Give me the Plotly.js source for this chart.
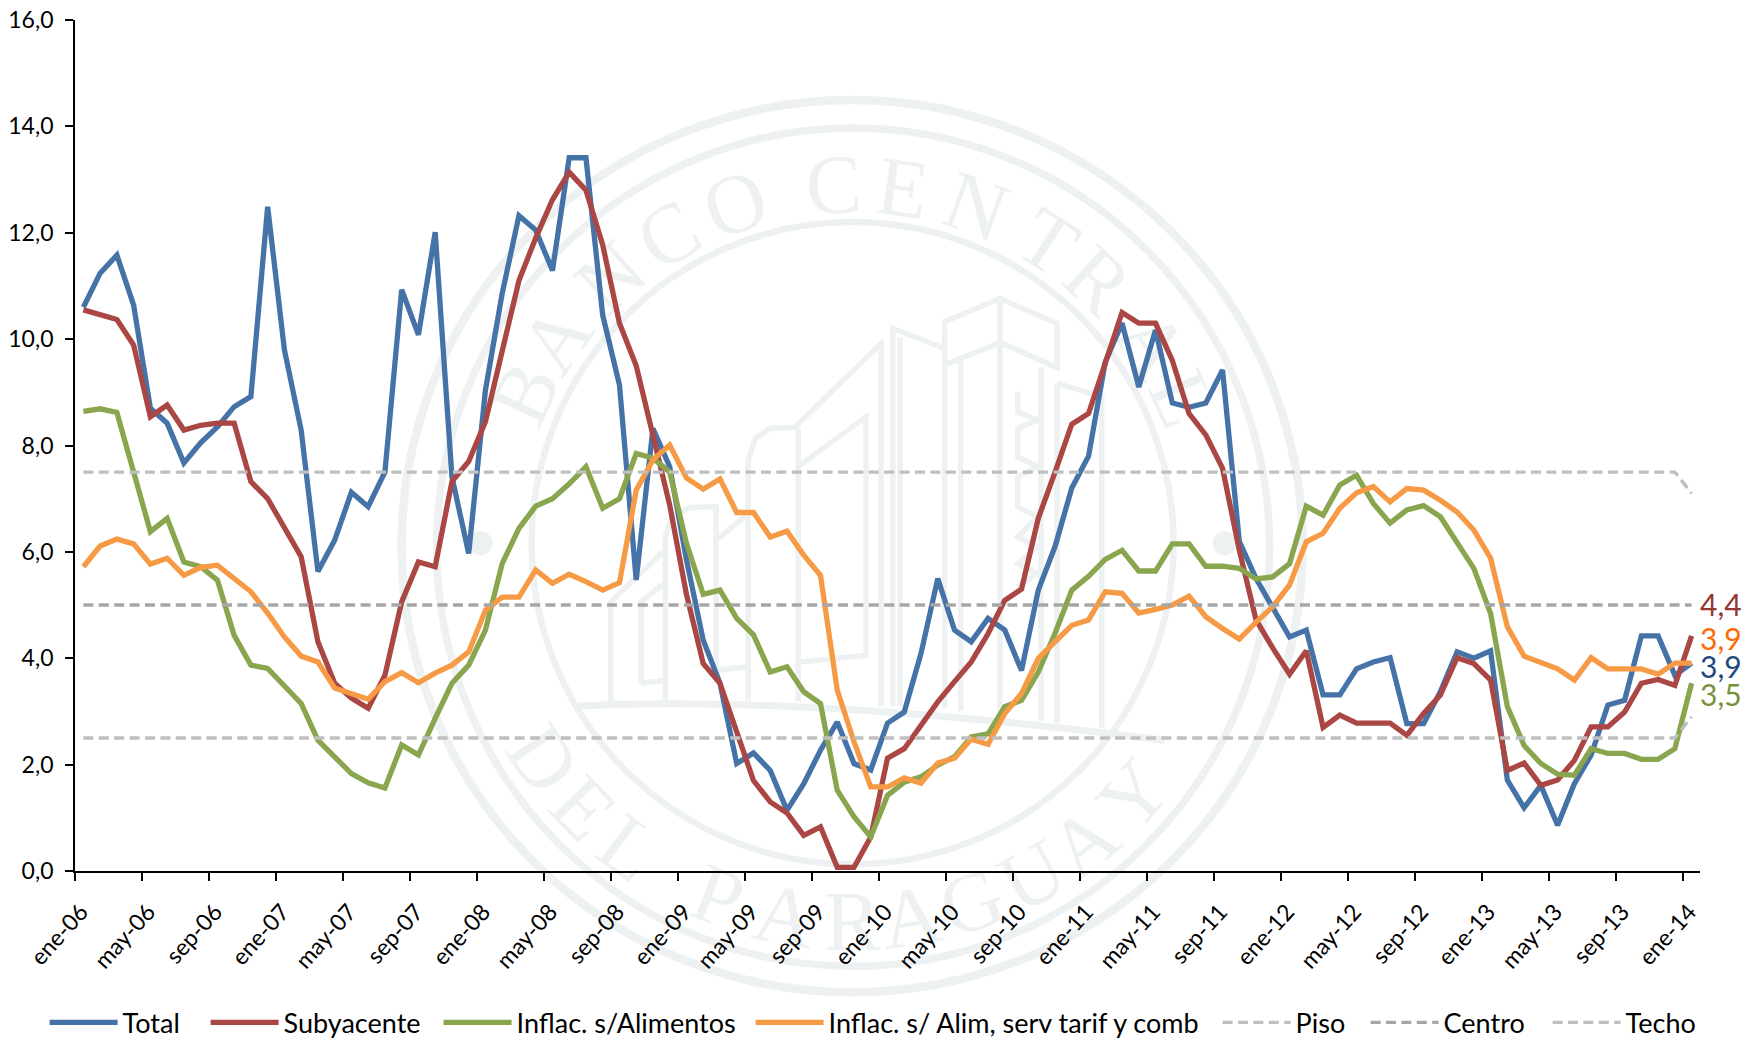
<!DOCTYPE html>
<html><head><meta charset="utf-8">
<script src="https://cdn.plot.ly/plotly-3.0.1.min.js"></script>
<style>html,body{margin:0;padding:0;background:#fff}#c{width:1748px;height:1046px}</style>
</head><body><div id="c"></div>
<script>
const monthLabels=['ene-06','may-06','sep-06','ene-07','may-07','sep-07','ene-08','may-08','sep-08','ene-09','may-09','sep-09','ene-10','may-10','sep-10','ene-11','may-11','sep-11','ene-12','may-12','sep-12','ene-13','may-13','sep-13','ene-14'];
const total=[10.6,11.24,11.58,10.64,8.7,8.42,7.67,8.05,8.35,8.73,8.92,12.49,9.8,8.29,5.63,6.22,7.12,6.85,7.5,10.93,10.08,12.01,7.41,5.97,9.04,10.86,12.32,12.05,11.29,13.41,13.41,10.45,9.14,5.47,8.32,7.6,5.85,4.34,3.53,2.02,2.22,1.89,1.14,1.64,2.27,2.8,2.02,1.9,2.78,2.99,4.09,5.5,4.53,4.31,4.75,4.53,3.77,5.28,6.1,7.2,7.8,9.57,10.3,9.1,10.17,8.8,8.72,8.8,9.42,6.2,5.5,4.95,4.4,4.53,3.31,3.31,3.8,3.93,4.01,2.77,2.77,3.37,4.12,4.0,4.14,1.71,1.19,1.61,0.86,1.64,2.18,3.12,3.21,4.42,4.42,3.68,3.91];
const subyacente=[10.55,10.45,10.37,9.89,8.54,8.76,8.29,8.38,8.42,8.42,7.32,7.0,6.47,5.91,4.31,3.53,3.25,3.06,3.68,5.06,5.81,5.72,7.32,7.7,8.45,9.76,11.1,11.9,12.62,13.14,12.8,11.77,10.3,9.5,8.23,6.88,5.2,3.9,3.53,2.58,1.7,1.3,1.09,0.67,0.83,0.07,0.07,0.64,2.12,2.3,2.74,3.18,3.56,3.93,4.46,5.09,5.3,6.63,7.5,8.4,8.6,9.55,10.5,10.3,10.3,9.6,8.6,8.2,7.57,6.03,4.72,4.19,3.7,4.14,2.7,2.93,2.78,2.78,2.78,2.55,2.96,3.31,4.01,3.9,3.59,1.89,2.03,1.61,1.71,2.08,2.71,2.71,2.99,3.53,3.6,3.49,4.42];
const alimentos=[8.64,8.69,8.62,7.47,6.38,6.63,5.81,5.72,5.47,4.43,3.87,3.81,3.49,3.15,2.46,2.15,1.83,1.66,1.56,2.37,2.18,2.87,3.53,3.87,4.53,5.78,6.44,6.86,7.0,7.28,7.6,6.82,7.0,7.85,7.76,7.5,6.16,5.2,5.28,4.75,4.44,3.74,3.84,3.37,3.15,1.52,1.02,0.64,1.42,1.67,1.77,1.99,2.15,2.52,2.58,3.09,3.21,3.74,4.47,5.28,5.54,5.86,6.03,5.64,5.64,6.15,6.15,5.73,5.73,5.69,5.49,5.53,5.78,6.86,6.69,7.26,7.44,6.91,6.54,6.79,6.87,6.66,6.19,5.69,4.84,3.09,2.36,2.02,1.82,1.8,2.3,2.21,2.21,2.1,2.1,2.3,3.53];
const alimServ=[5.72,6.11,6.24,6.15,5.77,5.88,5.56,5.71,5.75,5.5,5.25,4.85,4.4,4.04,3.93,3.44,3.34,3.23,3.56,3.73,3.54,3.72,3.87,4.12,4.9,5.15,5.15,5.66,5.41,5.58,5.44,5.28,5.42,7.16,7.73,8.01,7.39,7.18,7.37,6.74,6.74,6.28,6.39,5.94,5.56,3.4,2.43,1.58,1.58,1.75,1.65,2.03,2.12,2.48,2.38,2.96,3.34,4.0,4.31,4.62,4.72,5.25,5.22,4.85,4.92,5.0,5.17,4.78,4.56,4.36,4.68,4.97,5.38,6.19,6.35,6.82,7.11,7.23,6.94,7.19,7.16,6.97,6.75,6.41,5.88,4.59,4.04,3.93,3.8,3.59,4.01,3.8,3.8,3.8,3.7,3.91,3.91];
const piso=Array(96).fill(2.5).concat([2.9]);
const centro=Array(97).fill(5.0);
const techo=Array(96).fill(7.5).concat([7.1]);
const names=['Total','Subyacente','Inflac. s/Alimentos','Inflac. s/ Alim, serv tarif y comb','Piso','Centro','Techo'];
const lineColors=['#4572A7','#AA4643','#89A54E','#F79A46','#BFBFBF','#A6A6A6','#BFBFBF'];
const labelColors={subyacente:'#953735',alimServ:'#FF6A00',total:'#1F497D',alimentos:'#76923C'};
const legendStarts=[50,211,444,756,1223,1371,1553];

// Watermark (seal behind the chart), expressed in page pixels
const W=1748,H=1046,L=75.4,R=1700.4,T=20,B=870.7;
const px=x=>(x-L)/(R-L), py=y=>(B-y)/(B-T);
const sealColor='#EDF1F2', cx=853, cy=546;
const topLetters=[['B',-65],['A',-55],['N',-42],['C',-30.6],['O',-18.9],['C',-3],['E',8],['N',20],['T',32.7],['R',42.7],['A',56],['L',66]];
const botLetters=[['D',-55.5],['E',-45.8],['L',-36.5],['P',-21],['A',-10.4],['R',0],['A',9],['G',18.5],['U',28.6],['A',38],['Y',48.5]];
const ring=(x0,y0,x1,y1,w)=>({type:'circle',xref:'paper',yref:'paper',layer:'below',x0:px(x0),x1:px(x1),y0:py(y1),y1:py(y0),line:{color:sealColor,width:w},fillcolor:'rgba(0,0,0,0)'});
const dot=(x)=>({type:'circle',xref:'paper',yref:'paper',layer:'below',x0:px(x-12),x1:px(x+12),y0:py(555),y1:py(531),line:{width:0},fillcolor:sealColor});
const letter=(ch,deg,bottom)=>{const a=deg*Math.PI/180,r=bottom?366:371;
  const x=cx+r*Math.sin(a), y=bottom?cy+r*Math.cos(a):cy-r*Math.cos(a);
  return {type:'rect',xref:'paper',yref:'paper',layer:'below',x0:px(x-1),x1:px(x+1),y0:py(y+1),y1:py(y-1),line:{width:0},
    label:{text:ch,textangle:bottom?-deg:deg,textposition:'middle center',font:{family:'Liberation Serif',size:84,color:sealColor}}};};
const outline=(pts,w)=>({type:'path',xref:'paper',yref:'paper',layer:'below',
  path:pts.map((p,i)=>(i?'L':'M')+px(570+p[0]/2.8).toFixed(5)+','+py(280+p[1]/3).toFixed(5)).join(' '),line:{color:sealColor,width:w||5.5}});
const building=[
 [[115,1262],[115,965],[262,815]],
 [[200,1210],[200,965],[262,912]],[[200,1210],[262,1200]],
 [[268,1262],[268,770],[285,715],[335,682],[410,680],[410,1170]],[[410,780],[495,705]],[[410,1170],[495,1160]],
 [[500,1262],[500,540],[520,475],[560,445],[630,442],[872,190],[872,1278]],
 [[640,445],[640,1262]],[[645,555],[830,410],[830,1125],[645,1145]],
 [[905,1278],[905,145],[1050,205]],[[925,172],[925,1278]],
 [[1050,1285],[1050,125],[1205,55],[1365,130],[1365,262],[1205,187],[1055,252]],
 [[1205,55],[1205,1312]],[[1095,240],[1095,1292]],[[1320,262],[1320,1322]],
 [[1365,310],[1490,350],[1490,1342]],[[1365,310],[1365,1330]],
 [[1255,335],[1255,395],[1310,420],[1255,445],[1255,530],[1310,560],[1255,590],[1255,680],[1310,710],[1255,770],[1310,800],[1255,850],[1310,880],[1255,920]]
];
const baseCurve={type:'path',xref:'paper',yref:'paper',layer:'below',
  path:'M'+px(576)+','+py(706)+' Q'+px(800)+','+py(694)+' '+px(1165)+','+py(740),line:{color:sealColor,width:7}};
const shapes=[
 ring(402,100,1303,992,8.5),ring(437,128,1270,966,7.5),ring(532,222,1174,864,6.5),dot(481),dot(1225),baseCurve,
 ...building.map(b=>outline(b)),
 ...topLetters.map(l=>letter(l[0],l[1],false)),
 ...botLetters.map(l=>letter(l[0],l[1],true))
];

const idx=total.map((_,i)=>i);
const series=[total,subyacente,alimentos,alimServ,piso,centro,techo];
const legendKey=k=>k===0?'legend':'legend'+(k+1);
const data=series.map((s,k)=>({type:'scatter',mode:'lines',x:idx,y:s,name:names[k],legend:legendKey(k),
  line:{color:lineColors[k],width:k<4?5.3:3.4,dash:k<4?'solid':'10px,5.4px',shape:'linear'},hoverinfo:'x+y+name'}));

const lastLabel=(s,col,yc)=>({xref:'paper',yref:'paper',x:px(1721),y:py(yc),xanchor:'center',yanchor:'middle',showarrow:false,
  text:s[s.length-1].toFixed(1).replace('.',','),font:{family:'Lato',size:30,color:col}});
const annotations=[
 lastLabel(subyacente,labelColors.subyacente,604),
 lastLabel(alimServ,labelColors.alimServ,638),
 lastLabel(total,labelColors.total,666),
 lastLabel(alimentos,labelColors.alimentos,694)
];
const layout={width:W,height:H,margin:{l:L,r:W-R,t:T,b:H-B,pad:0,autoexpand:false},paper_bgcolor:'#fff',plot_bgcolor:'rgba(0,0,0,0)',
 font:{family:'Lato',size:23,color:'#000'},separators:',.',shapes,annotations,showlegend:true,
 xaxis:{type:'linear',range:[-0.5,96.5],tickmode:'array',tickvals:monthLabels.map((_,i)=>-0.5+4*i),ticktext:monthLabels,tickangle:-48,automargin:false,
   ticks:'outside',ticklen:8,tickwidth:1.5,tickcolor:'#000',showgrid:false,zeroline:false,showline:true,linecolor:'#000',linewidth:2.4,
   ticklabelshift:6,ticklabelstandoff:8,tickfont:{family:'Lato',size:23,color:'#000'}},
 yaxis:{range:[0,16],tick0:0,dtick:2,tickformat:'.1f',ticks:'outside',ticklen:8,tickwidth:1.5,tickcolor:'#000',showgrid:false,zeroline:false,automargin:false,
   showline:true,linecolor:'#000',linewidth:1.8,ticklabelstandoff:7,tickfont:{family:'Lato',size:23,color:'#000'}}
};
legendStarts.forEach((s,k)=>{layout[legendKey(k)]={orientation:'h',x:px(s-5),xanchor:'left',y:py(998),yanchor:'top',
  font:{family:'Lato',size:27,color:'#000'},itemwidth:68,bgcolor:'rgba(0,0,0,0)'};});
Plotly.newPlot('c',data,layout,{displayModeBar:false});
</script></body></html>
